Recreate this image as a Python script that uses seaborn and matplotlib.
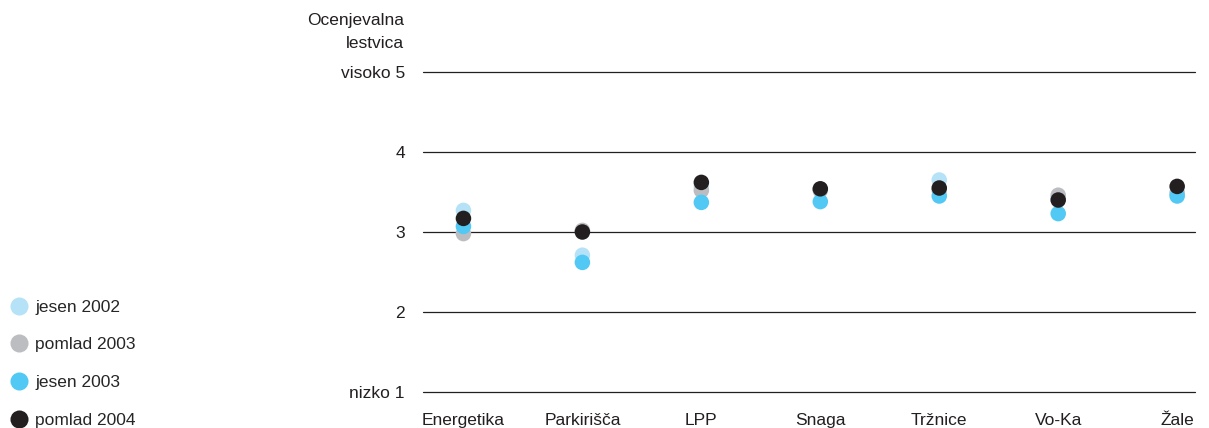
import pandas as pd
import matplotlib.pyplot as plt
import seaborn as sns
from matplotlib.lines import Line2D

categories = ["Energetika", "Parkirišča", "LPP", "Snaga", "Tržnice", "Vo-Ka", "Žale"]
series = ["jesen 2002", "pomlad 2003", "jesen 2003", "pomlad 2004"]
jesen_2002 = [3.27, 2.71, 3.57, 3.53, 3.65, 3.42, 3.50]
pomlad_2003 = [2.98, 3.02, 3.52, 3.52, 3.52, 3.46, 3.48]
jesen_2003 = [3.07, 2.62, 3.37, 3.38, 3.45, 3.23, 3.45]
pomlad_2004 = [3.17, 3.00, 3.62, 3.54, 3.55, 3.40, 3.57]
colors = ["#b5e2f7", "#bcbdc1", "#52c8f5", "#231f20"]
y_ticks = [1, 2, 3, 4, 5]
y_labels = ["nizko 1", "2", "3", "4", "visoko 5"]

rows = []
for name, vals in zip(series, [jesen_2002, pomlad_2003, jesen_2003, pomlad_2004]):
    for cat, v in zip(categories, vals):
        rows.append({"kategorija": cat, "ocena": v, "obdobje": name})
df = pd.DataFrame(rows)

sns.set_style("white")
plt.rcParams["font.family"] = ["Liberation Sans", "DejaVu Sans"]
fs = 12.5

fig = plt.figure(figsize=(12.09, 4.28), dpi=100)
ax = fig.add_axes([423 / 1209, 36 / 428, 772 / 1209, 320 / 428])

sns.scatterplot(data=df, x="kategorija", y="ocena", hue="obdobje",
                hue_order=series, palette=colors, s=125, linewidth=0,
                alpha=1, legend=False, ax=ax, zorder=3, clip_on=False)

for t in y_ticks:
    ax.axhline(t, color="#231f20", lw=0.9, zorder=1, clip_on=False)

ax.set_ylim(1, 5)
ax.set_xlim(-0.34, 6.15)
ax.set_yticks(y_ticks)
ax.set_yticklabels(y_labels)
ax.set_xlabel("")
ax.set_ylabel("")
ax.tick_params(axis="both", length=0, labelsize=fs, colors="#231f20")
ax.tick_params(axis="y", pad=13)
ax.tick_params(axis="x", pad=15)
for s in ax.spines.values():
    s.set_visible(False)

fig.text(404 / 1209, 1 - 20 / 428, "Ocenjevalna", ha="right", va="center",
         fontsize=fs, color="#231f20")
fig.text(404 / 1209, 1 - 43 / 428, "lestvica", ha="right", va="center",
         fontsize=fs, color="#231f20")

handles = [Line2D([], [], marker="o", linestyle="", markersize=13,
                  markerfacecolor=c, markeredgewidth=0) for c in colors]
fig.legend(handles, series, loc="upper left", bbox_to_anchor=(4 / 1209, 1 - 296 / 428),
           frameon=False, fontsize=fs, handletextpad=0.3, labelspacing=1.3,
           handlelength=1.3, borderaxespad=0, borderpad=0.2)

fig.savefig("out.png", dpi=100)
